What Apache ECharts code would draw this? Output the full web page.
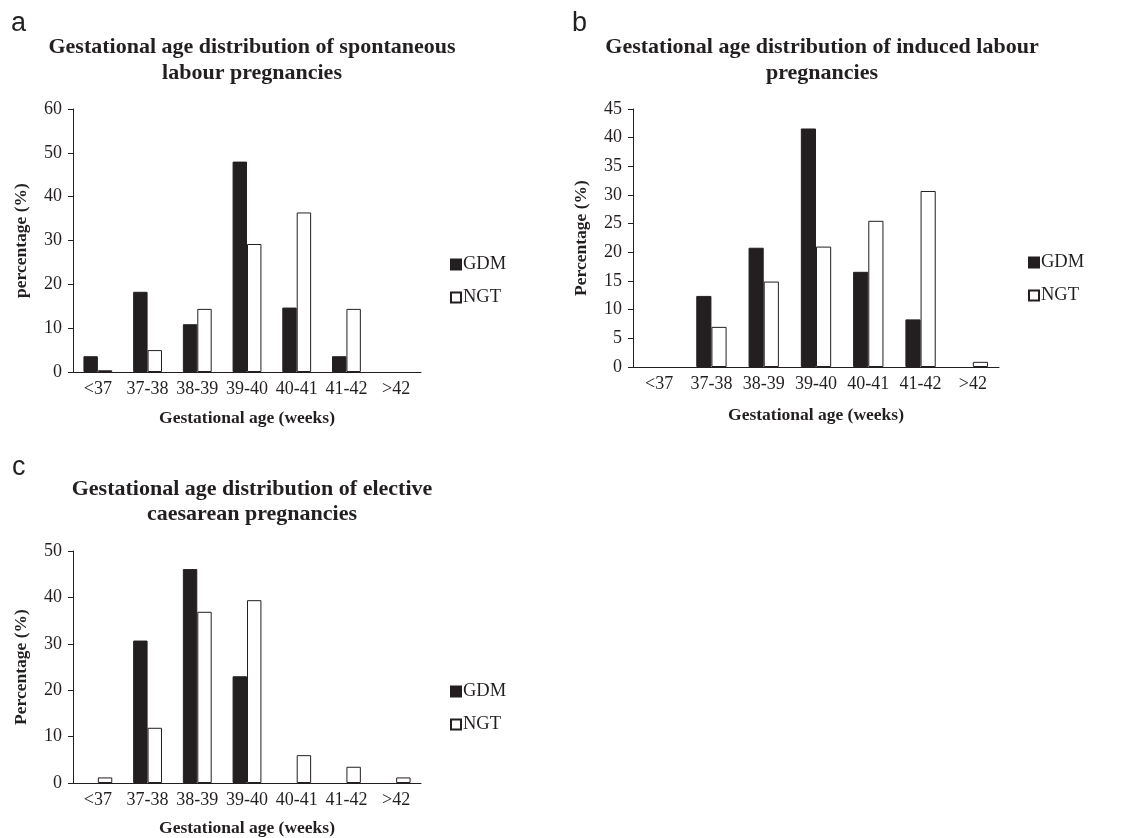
<!DOCTYPE html>
<html>
<head>
<meta charset="utf-8">
<script src="https://cdn.jsdelivr.net/npm/echarts@6/dist/echarts.min.js"></script>
<style>
html,body{margin:0;padding:0;background:#fff;}
#chart{width:1131px;height:838px;}
</style>
</head>
<body>
<div id="chart"></div>
<script>
// ---- data ----
const categories = ['<37', '37-38', '38-39', '39-40', '40-41', '41-42', '>42'];
const seriesNames = ['GDM', 'NGT'];

// (a) spontaneous labour
const spontGDM = [3.6, 18.3, 10.9, 48.0, 14.7, 3.6, 0];
const spontNGT = [0.4, 5.0, 14.4, 29.2, 36.4, 14.4, 0];
// (b) induced labour
const inducedGDM = [0, 12.4, 20.8, 41.6, 16.6, 8.3, 0];
const inducedNGT = [0, 7.0, 14.9, 21.0, 25.5, 30.7, 0.9];
// (c) elective caesarean
const electiveGDM = [0, 30.7, 46.1, 23.0, 0, 0, 0];
const electiveNGT = [1.2, 11.9, 36.9, 39.4, 6.0, 3.5, 1.2];

const titleA = 'Gestational age distribution of spontaneous\nlabour pregnancies';
const titleB = 'Gestational age distribution of induced labour\npregnancies';
const titleC = 'Gestational age distribution of elective\ncaesarean pregnancies';
const yNameA = 'percentage (%)';
const yNameB = 'Percentage (%)';
const yNameC = 'Percentage (%)';
const xName = 'Gestational age (weeks)';

// ---- styles ----
const INK = '#231f20';
const SERIF = '"Liberation Serif", "Times New Roman", serif';
const SANS = '"Liberation Sans", Arial, sans-serif';

const chart = echarts.init(document.getElementById('chart'));

function xAxis(grid, gap) {
  return {
    type: 'category', gridIndex: grid, data: categories,
    axisLine: {lineStyle: {color: INK, width: 1}},
    axisTick: {show: false},
    axisLabel: {color: INK, fontFamily: SERIF, fontSize: 18, margin: 8, interval: 0, hideOverlap: false},
    name: xName, nameLocation: 'middle', nameGap: gap,
    nameTextStyle: {color: INK, fontFamily: SERIF, fontSize: 17.5, fontWeight: 'bold'}
  };
}
function yAxis(grid, max, interval, name) {
  return {
    type: 'value', gridIndex: grid, min: 0, max: max, interval: interval,
    axisLine: {show: true, lineStyle: {color: INK, width: 1}},
    axisTick: {show: true, length: 5, lineStyle: {color: INK}},
    splitLine: {show: false},
    axisLabel: {color: INK, fontFamily: SERIF, fontSize: 18, margin: 11},
    name: name, nameLocation: 'middle', nameGap: 43, nameRotate: 90,
    nameTextStyle: {color: INK, fontFamily: SERIF, fontSize: 17.5, fontWeight: 'bold'}
  };
}
// zero-height bars are not drawn in the reference
const visible = arr => arr.map(v => (v === 0 ? null : v));
function bars(idx, gdm, ngt) {
  return [
    {name: seriesNames[0], type: 'bar', xAxisIndex: idx, yAxisIndex: idx, data: visible(gdm),
     barGap: '0%', barCategoryGap: '42%',
     itemStyle: {color: INK, borderColor: INK, borderWidth: 1}},
    {name: seriesNames[1], type: 'bar', xAxisIndex: idx, yAxisIndex: idx, data: visible(ngt),
     barGap: '0%', barCategoryGap: '42%',
     itemStyle: {color: '#ffffff', borderColor: INK, borderWidth: 1}}
  ];
}
function legend(left, top) {
  return {
    data: seriesNames, orient: 'vertical', left: left, top: top,
    icon: 'rect', itemWidth: 10, itemHeight: 10, itemGap: 14, padding: 0,
    selectedMode: false,
    textStyle: {color: INK, fontFamily: SERIF, fontSize: 18.5, lineHeight: 19, padding: [0, 0, 0, -3]}
  };
}
function title(text, x, top, lh) {
  return {
    text: text, left: x, top: top, textAlign: 'center', padding: 0,
    textStyle: {color: INK, fontFamily: SERIF, fontSize: 22, fontWeight: 'bold', lineHeight: lh}
  };
}
function label(text, x, top) {
  return {
    text: text, left: x, top: top, padding: 0,
    textStyle: {color: INK, fontFamily: SANS, fontSize: 27, fontWeight: 'normal'}
  };
}

chart.setOption({
  backgroundColor: '#ffffff',
  animation: false,
  title: [
    label('a', 11, 10), label('b', 572, 10), label('c', 12, 454),
    title(titleA, 252, 34, 26), title(titleB, 822, 34, 26), title(titleC, 252, 477, 25)
  ],
  legend: [legend(450, 255), legend(1028, 253), legend(450, 682)],
  grid: [
    {left: 73, top: 109, width: 348, height: 263},
    {left: 633, top: 109, width: 366, height: 258},
    {left: 73, top: 551, width: 348, height: 232}
  ],
  xAxis: [xAxis(0, 37), xAxis(1, 39), xAxis(2, 36)],
  yAxis: [yAxis(0, 60, 10, yNameA), yAxis(1, 45, 5, yNameB), yAxis(2, 50, 10, yNameC)],
  series: [].concat(bars(0, spontGDM, spontNGT), bars(1, inducedGDM, inducedNGT), bars(2, electiveGDM, electiveNGT))
});
</script>
</body>
</html>
